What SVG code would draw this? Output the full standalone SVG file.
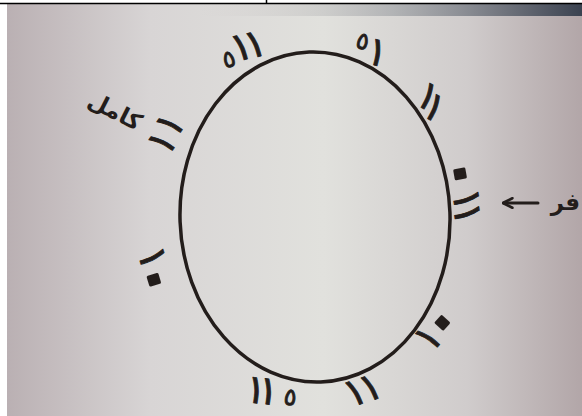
<svg xmlns="http://www.w3.org/2000/svg" width="582" height="416" viewBox="0 0 582 416">
<defs>
<linearGradient id="bg" x1="0" y1="0" x2="1" y2="0">
<stop offset="0" stop-color="#bab0b3"/>
<stop offset="0.25" stop-color="#d8d5d5"/>
<stop offset="0.55" stop-color="#e1e1dd"/>
<stop offset="0.8" stop-color="#d0cccc"/>
<stop offset="1" stop-color="#b2a6a8"/>
</linearGradient>
<linearGradient id="topband" x1="0" y1="0" x2="1" y2="0">
<stop offset="0" stop-color="#c4bcbc" stop-opacity="0"/>
<stop offset="0.5" stop-color="#7a8088" stop-opacity="0.4"/>
<stop offset="1" stop-color="#3a4250"/>
</linearGradient>
<marker id="ah" viewBox="0 0 10 10" refX="8" refY="5" markerWidth="4" markerHeight="4" orient="auto">
<path d="M1,1 L9,5 L1,9" fill="none" stroke="#231d1b" stroke-width="2.2" stroke-linecap="round" stroke-linejoin="round"/>
</marker>
</defs>
<style>
.lbl{font-family:"DejaVu Sans",sans-serif;fill:#231d1b;stroke:#231d1b;stroke-width:0.8;stroke-linejoin:round;text-anchor:middle;}
.one{font-size:40px;}
.zero{font-size:76px;stroke-width:3px;}
.five{font-size:24px;}
.w{font-size:23px;font-weight:bold;font-family:"DejaVu Sans",sans-serif;fill:#231d1b;}
</style>
<rect x="0" y="0" width="582" height="416" fill="#ffffff"/>
<rect x="7" y="4" width="575" height="412" fill="url(#bg)"/>
<rect x="200" y="4" width="382" height="12" fill="url(#topband)"/>
<line x1="0" y1="3.5" x2="582" y2="3.5" stroke="#000" stroke-width="1.5"/>
<line x1="266.5" y1="0" x2="266.5" y2="4" stroke="#000" stroke-width="1.5"/>
<g id="circle">
<ellipse cx="315" cy="217" rx="135" ry="165" fill="none" stroke="#231d1b" stroke-width="3.5" transform="rotate(-2 315 217)"/>
</g>
<g id="label-top-left"><text class="lbl" transform="translate(242 50) rotate(-15)"><tspan class="five" x="-15" y="13.5">٥</tspan><tspan class="one" x="0" y="10">١</tspan><tspan class="one" x="14" y="10.6">١</tspan></text></g>
<g id="label-top"><text class="lbl" transform="translate(370 48) rotate(15)"><tspan class="five" x="-8.7" y="3.2">٥</tspan><tspan class="one" x="8.4" y="15.4">١</tspan></text></g>
<g id="label-upper-right"><text class="lbl" transform="translate(431 102) rotate(30)"><tspan class="one" x="-5.4" y="9.7">١</tspan><tspan class="one" x="5.8" y="16">١</tspan></text></g>
<g id="label-right"><text class="lbl" transform="translate(465 195) rotate(80)"><tspan class="zero" x="-21.7" y="22.5">٠</tspan><tspan class="one" x="4.7" y="12.1">١</tspan><tspan class="one" x="19.1" y="13.8">١</tspan></text></g>
<g id="label-lower-right"><text class="lbl" transform="translate(434 330) rotate(-48)"><tspan class="one" x="-9.9" y="13.9">١</tspan><tspan class="zero" x="10.9" y="22.8">٠</tspan></text></g>
<g id="label-bottom-right"><text class="lbl" transform="translate(363.5 392) rotate(-22)"><tspan class="one" x="-8" y="10.2" font-size="34">١</tspan><tspan class="one" x="8.2" y="11.4" font-size="34">١</tspan></text></g>
<g id="label-bottom"><text class="lbl" transform="translate(272 392) rotate(9)"><tspan class="one" x="-16.1" y="13.5">١</tspan><tspan class="one" x="-3.6" y="13">١</tspan><tspan class="five" x="19" y="10.1">٥</tspan></text></g>
<g id="label-left"><text class="lbl" transform="translate(154 268) rotate(73)"><tspan class="one" x="-10.2" y="11.5">١</tspan><tspan class="zero" x="11.3" y="25">٠</tspan></text></g>
<g id="label-upper-left"><text class="lbl" transform="translate(166 133.5) rotate(-55)"><tspan class="one" x="-9.7" y="14.9">١</tspan><tspan class="one" x="9.7" y="11.1">١</tspan></text></g>
<g id="label-kamil"><text class="w" transform="translate(115 111) rotate(27)" text-anchor="middle" y="8">كامل</text></g>
<g id="label-sifr"><text class="w" x="580" y="210" text-anchor="end">فر</text></g>
<g id="connectors">
<line x1="538" y1="203" x2="504" y2="203" stroke="#231d1b" stroke-width="3" stroke-linecap="round" marker-end="url(#ah)"/>
</g>
</svg>
